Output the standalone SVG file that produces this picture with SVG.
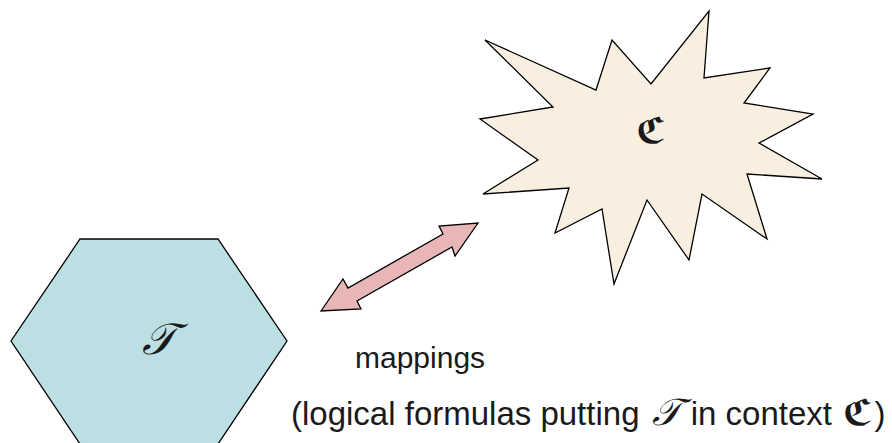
<svg xmlns="http://www.w3.org/2000/svg" width="892" height="443" viewBox="0 0 892 443">
<style>
.shape{stroke:#000;stroke-width:1.3;stroke-linejoin:miter}
.lbl{font-family:"Liberation Sans",Arial,sans-serif;fill:#1a1a1a}
.sym{font-family:"DejaVu Serif","DejaVu Sans",serif;fill:#1a1a1a}
</style>
<rect width="892" height="443" fill="#fff"/>
<g id="context">
<polygon class="shape" fill="#f9efe1" points="485,40 596,90 612,40 651,84 709,11 704,78 770,68 744,103 813,114 759,143 822,179 747,174 767,239 702,194 689,260 647,200 614,284 602,209 555,233 569,188 483,194 538,160 480,119 553,107"/>
<text class="sym" x="651" y="143" font-size="36" text-anchor="middle" font-weight="bold">ℭ</text>
</g>
<g id="theory">
<polygon class="shape" fill="#bcdfe3" points="80,239 218,239 287,341 218,444 80,444 11,341"/>
<text class="sym" x="159" y="354" font-size="44" text-anchor="middle" font-style="italic">𝒯</text>
</g>
<g id="connectors">
<polygon class="shape" fill="#e8b6b6" points="321,311 343,279 348,288 443,234 439,226 478,223 455,256 452,247 357,301 361,309"/>
</g>
<g id="labels">
<text class="lbl" x="355" y="368" font-size="30">mappings</text>
<text class="lbl" x="291" y="425" font-size="33">(logical formulas putting <tspan class="sym" font-size="38" font-style="italic" dx="3">𝒯</tspan><tspan dx="10">in context </tspan><tspan class="sym" font-size="36" font-weight="bold" dx="2">ℭ</tspan><tspan dx="2">)</tspan></text>
</g>
</svg>
